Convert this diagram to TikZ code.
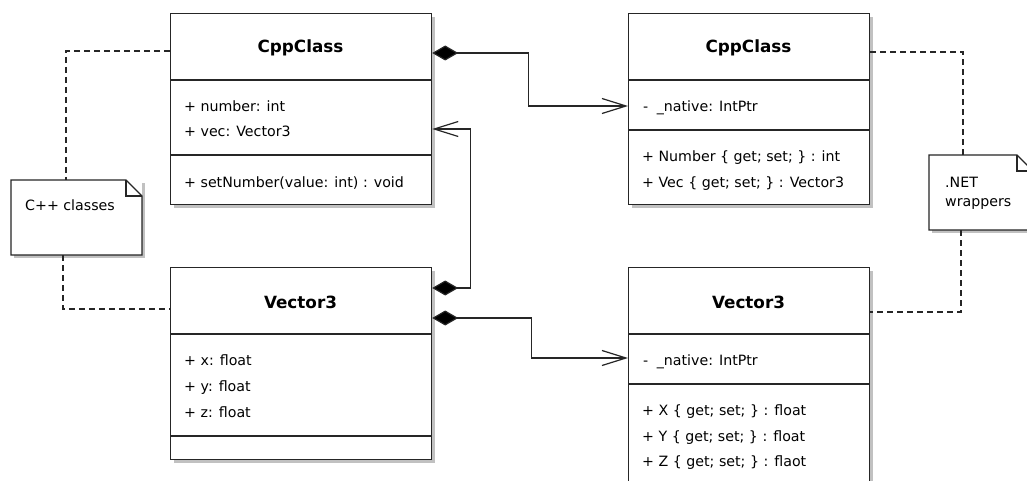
\documentclass[tikz,border=0pt]{standalone}
\usepackage{fontspec}
\setmainfont{DejaVu Sans}
\usetikzlibrary{arrows.meta,shadows}
\tikzset{
  x=1pt, y=-1pt,
  line/.style={draw=black!85, line width=1.2pt},
  classbox/.style={line, fill=white, anchor=north west, inner sep=0pt,
    drop shadow={shadow xshift=3pt, shadow yshift=-3pt, fill=black!30, opacity=0.8}},
  notebg/.style={fill=white, anchor=north west, inner sep=0pt,
    drop shadow={shadow xshift=3pt, shadow yshift=-3pt, fill=black!30, opacity=0.8}},
  title/.style={font=\fontsize{16.8}{19}\selectfont\bfseries, inner sep=0pt},
  member/.style={font=\fontsize{14.2}{16}\selectfont, anchor=base west, inner sep=0pt},
  comp/.style={line, {Diamond[length=26pt,width=15pt,fill=black]}-{Straight Barb[length=24pt,width=15pt]}},
  notelink/.style={line, dash pattern=on 6pt off 4pt},
}
\begin{document}
\begin{tikzpicture}
\clip (0,0) rectangle (1027,481);
\fill[white] (0,0) rectangle (1027,481);

% ---- C++ side ----
\node[classbox, minimum width=261pt, minimum height=191pt] (cppL) at (170,13) {};
\draw[line] (170,80) -- (431,80);
\draw[line] (170,155) -- (431,155);
\node[title] (cppLt) at (300.5,48) {CppClass};
\node[member] (cppLa1) at (184,112) {+ number: int};
\node[member] (cppLa2) at (184,137) {+ vec: Vector3};
\node[member] (cppLo1) at (184,187) {+ setNumber(value: int) : void};

\node[classbox, minimum width=261pt, minimum height=192pt] (vecL) at (170,267) {};
\draw[line] (170,334) -- (431,334);
\draw[line] (170,436) -- (431,436);
\node[title] (vecLt) at (300.5,302) {Vector3};
\node[member] (vecLa1) at (184,365) {+ x: float};
\node[member] (vecLa2) at (184,391) {+ y: float};
\node[member] (vecLa3) at (184,417) {+ z: float};

% ---- .NET side ----
\node[classbox, minimum width=241pt, minimum height=191pt] (cppR) at (628,13) {};
\draw[line] (628,80) -- (869,80);
\draw[line] (628,130) -- (869,130);
\node[title] (cppRt) at (748.5,48) {CppClass};
\node[member] (cppRa1) at (643,112) {-\hspace{4pt} \_native: IntPtr};
\node[member] (cppRo1) at (642,162) {+ Number \{ get; set; \} : int};
\node[member] (cppRo2) at (642,187) {+ Vec \{ get; set; \} : Vector3};

\node[classbox, minimum width=241pt, minimum height=240pt] (vecR) at (628,267) {};
\draw[line] (628,334) -- (869,334);
\draw[line] (628,384) -- (869,384);
\node[title] (vecRt) at (748.5,302) {Vector3};
\node[member] (vecRa1) at (643,365) {-\hspace{4pt} \_native: IntPtr};
\node[member] (vecRo1) at (642,415) {+ X \{ get; set; \} : float};
\node[member] (vecRo2) at (642,441) {+ Y \{ get; set; \} : float};
\node[member] (vecRo3) at (642,466) {+ Z \{ get; set; \} : flaot};

% ---- notes ----
\node[notebg, minimum width=131pt, minimum height=75pt] (noteL) at (11,180) {};
\draw[line] (11,180) -- (126,180) -- (142,196) -- (142,255) -- (11,255) -- cycle;
\draw[line] (126,180) -- (126,196) -- (142,196);
\node[member] (noteLt) at (25,210) {C++ classes};

\node[notebg, minimum width=104pt, minimum height=75pt] (noteR) at (929,155) {};
\draw[line] (929,155) -- (1017,155) -- (1033,171) -- (1033,230) -- (929,230) -- cycle;
\draw[line] (1017,155) -- (1017,171) -- (1033,171);
\node[member] (noteRt1) at (945,187) {.NET};
\node[member] (noteRt2) at (945,206) {wrappers};

% ---- note links ----
\draw[notelink] ([yshift=-38pt]cppL.north west) -| ([xshift=55pt]noteL.north west);
\draw[notelink] ([xshift=52pt]noteL.south west) |- ([yshift=-42pt]vecL.north west);
\draw[notelink] ([yshift=-39pt]cppR.north east) -| ([xshift=34pt]noteR.north west);
\draw[notelink] ([xshift=32pt]noteR.south west) |- ([yshift=-45pt]vecR.north east);

% ---- compositions ----
\draw[comp] ([yshift=-40pt]cppL.north east) -- ++(96,0) |- ([yshift=-93pt]cppR.north west);
\draw[comp] ([yshift=-21pt]vecL.north east) -- ++(38,0) |- ([yshift=-116pt]cppL.north east);
\draw[comp] ([yshift=-51pt]vecL.north east) -- ++(99,0) |- ([yshift=-91pt]vecR.north west);
\end{tikzpicture}
\end{document}
